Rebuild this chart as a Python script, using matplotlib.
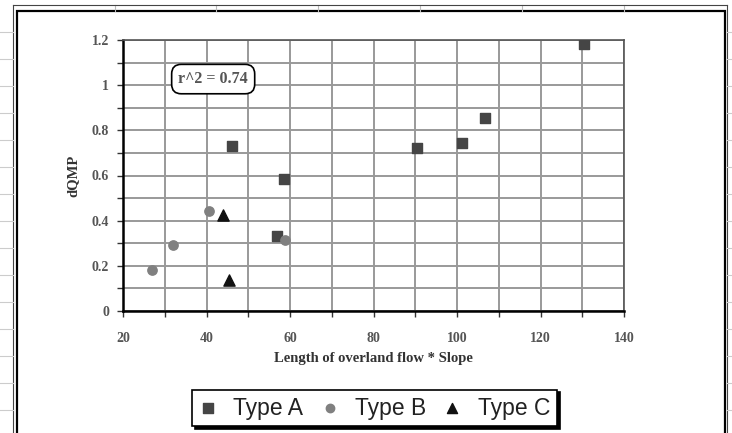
import matplotlib
matplotlib.use("Agg")
import matplotlib.pyplot as plt
from matplotlib.patches import Rectangle
from matplotlib.lines import Line2D
from matplotlib.ticker import MultipleLocator

# ---- data ----
typeA_x = [46.1, 58.6, 56.8, 90.3, 101.3, 106.8, 130.3]
typeA_y = [0.73, 0.585, 0.333, 0.723, 0.743, 0.855, 1.183]
typeB_x = [26.9, 32.0, 40.6, 58.8]
typeB_y = [0.18, 0.294, 0.443, 0.314]
typeC_x = [44.0, 45.4]
typeC_y = [0.425, 0.137]
series_labels = ["Type A", "Type B", "Type C"]
x_label = "Length of overland flow * Slope"
y_label = "dQMP"
annotation = "r^2 = 0.74"

W, H = 732, 433
fig = plt.figure(figsize=(W / 100, H / 100), dpi=100)
fig.patch.set_facecolor("white")

def fx(px):
    return px / W

def fy(py):
    return 1 - py / H

# spreadsheet background lines
for xc in [115, 216, 318, 420, 522, 624]:
    fig.add_artist(Line2D([fx(xc), fx(xc)], [fy(5), fy(11)], color="#bbbbbb", lw=0.8))
fig.add_artist(Line2D([fx(13), fx(727)], [fy(5), fy(5)], color="#444444", lw=0.8))
fig.add_artist(Line2D([fx(13), fx(13)], [fy(5), fy(433)], color="#444444", lw=0.8))
fig.add_artist(Line2D([fx(727), fx(727)], [fy(5), fy(433)], color="#444444", lw=0.8))
for yr in range(32, 433, 27):
    fig.add_artist(Line2D([fx(0), fx(13)], [fy(yr), fy(yr)], color="#cccccc", lw=0.8))
    fig.add_artist(Line2D([fx(727), fx(732)], [fy(yr), fy(yr)], color="#cccccc", lw=0.8))
# chart area border
fig.add_artist(Rectangle((fx(17), fy(440)), fx(725) - fx(17), fy(11) - fy(440),
                         fill=False, edgecolor="black", lw=1.6))

ax = fig.add_axes([fx(123), fy(311), fx(624) - fx(123), fy(40) - fy(311)])
ax.set_xlim(20, 140)
ax.set_ylim(0, 1.2)
ax.xaxis.set_major_locator(MultipleLocator(20))
ax.xaxis.set_minor_locator(MultipleLocator(10))
ax.yaxis.set_major_locator(MultipleLocator(0.2))
ax.yaxis.set_minor_locator(MultipleLocator(0.1))
ax.grid(True, which="both", color="#999999", lw=1.4)
ax.set_axisbelow(True)
for s in ["top", "right"]:
    ax.spines[s].set_color("#555555")
    ax.spines[s].set_linewidth(1.2)
for s in ["left", "bottom"]:
    ax.spines[s].set_color("black")
    ax.spines[s].set_linewidth(1.8)

serif = dict(family="Liberation Serif", weight="bold")
ax.tick_params(which="both", direction="out", length=4, width=1, color="#333333")
ax.tick_params(axis="x", pad=11)
ax.tick_params(axis="y", pad=6)
ax.set_xticks([20, 40, 60, 80, 100, 120, 140])
ax.set_xticklabels(["20", "40", "60", "80", "100", "120", "140"], fontsize=10, color="#555555", **serif)
ax.set_yticks([0, 0.2, 0.4, 0.6, 0.8, 1.0, 1.2])
ax.set_yticklabels(["0", "0.2", "0.4", "0.6", "0.8", "1", "1.2"], fontsize=10, color="#555555", **serif)
ax.set_xlabel(x_label, fontsize=10.5, color="#333333", labelpad=5, **serif)
ax.set_ylabel(y_label, fontsize=10.5, color="#333333", labelpad=9, **serif)

ax.scatter(typeA_x, typeA_y, marker="s", s=60, color="#454545", zorder=3, label=series_labels[0])
ax.scatter(typeB_x, typeB_y, marker="o", s=45, color="#808080", zorder=3, label=series_labels[1])
ax.scatter(typeC_x, typeC_y, marker="^", s=65, color="#111111", zorder=3, label=series_labels[2])

ax.text(41.6, 1.027, annotation, ha="center", va="center", fontsize=11.5, color="#555555",
        bbox=dict(boxstyle="round,pad=0.42,rounding_size=0.6", fc="white", ec="black", lw=1.2),
        zorder=4, **serif)

handles, labels = ax.get_legend_handles_labels()
leg = fig.legend(handles, labels, loc="center", ncol=3,
                 bbox_to_anchor=(fx(374.5), fy(408)),
                 prop=dict(family="Liberation Sans", size=16.5),
                 frameon=True, fancybox=False, markerscale=0.9,
                 handlelength=0.8, handletextpad=0.7, columnspacing=0.75,
                 borderpad=0.3,
                 shadow={"facecolor": "black", "edgecolor": "black", "alpha": 1})
leg.get_frame().set_edgecolor("black")
leg.get_frame().set_linewidth(1.2)
for t in leg.get_texts():
    t.set_color("#222222")

fig.savefig("out.png", dpi=100)
